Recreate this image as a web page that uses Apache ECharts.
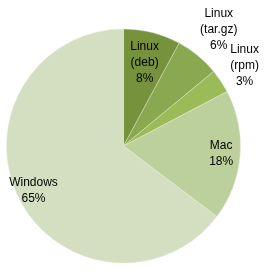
<!DOCTYPE html>
<html><head><meta charset="utf-8">
<script src="https://cdn.jsdelivr.net/npm/echarts@6/dist/echarts.min.js"></script>
<style>html,body{margin:0;padding:0;background:#fff}#c{width:265px;height:271px}</style>
</head><body><div id="c"></div>
<script>
const categories = ['Linux\n(deb)', 'Linux\n(tar.gz)', 'Linux\n(rpm)', 'Mac', 'Windows'];
const values = [7.9, 6.1, 3.3, 18.0, 64.7];
const colors = ['#76923c', '#8aa84f', '#9bbb59', '#bcd09b', '#d3dfc0'];
// which label ring each slice uses
const labelGroups = [
  { radius: [66, 100], items: [0] },
  { radius: [80, 115], items: [4] },
  { radius: [78, 112], items: [3] },
  { radius: [117, 177], items: [1] },
  { radius: [117, 168], items: [2] }
];
const center = [123.5, 146];
const R = 117;
const total = values.reduce((a, b) => a + b, 0);
const fmt = p => p.name + '\n' + Math.round(p.value / total * 100) + '%';
const series = [{
  type: 'pie', radius: [0, R], center, startAngle: 90, clockwise: true,
  silent: true, animation: false,
  label: { show: false }, labelLine: { show: false },
  itemStyle: { borderWidth: 0.4, borderColor: '#e8eedd' },
  data: categories.map((c, i) => ({ name: c, value: values[i], itemStyle: { color: colors[i] } }))
}];
labelGroups.forEach(g => {
  series.push({
    type: 'pie', radius: g.radius, center, startAngle: 90, clockwise: true,
    silent: true, animation: false, labelLine: { show: false },
    avoidLabelOverlap: false,
    labelLayout: { hideOverlap: false, moveOverlap: false },
    itemStyle: { color: 'rgba(0,0,0,0)', borderWidth: 0 },
    emphasis: { disabled: true },
    data: categories.map((c, i) => ({
      name: c, value: values[i],
      label: {
        show: g.items.includes(i), position: 'inside', formatter: fmt,
        color: '#000', fontFamily: 'Liberation Sans', fontSize: 12, lineHeight: 16, align: 'center'
      }
    }))
  });
});
const chart = echarts.init(document.getElementById('c'), null, { renderer: 'canvas' });
chart.setOption({ animation: false, backgroundColor: '#fff', series });
</script></body></html>
